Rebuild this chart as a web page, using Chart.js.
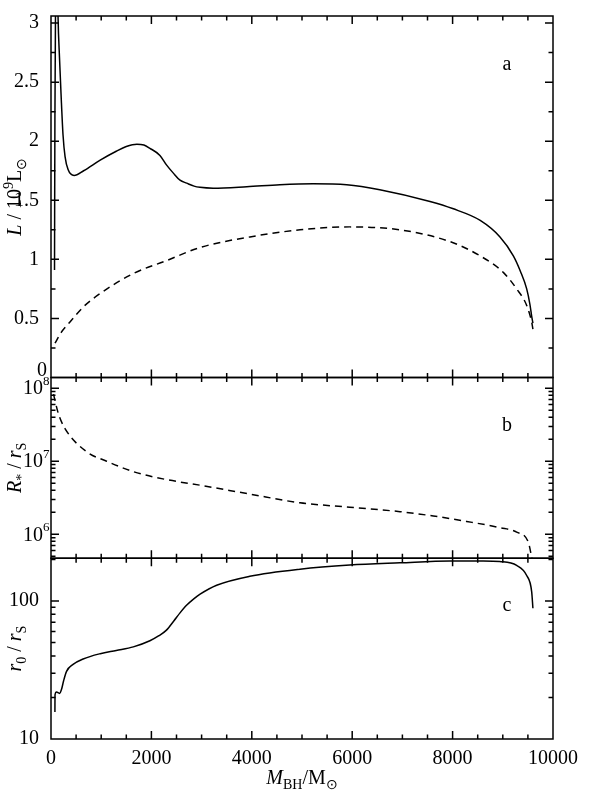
<!DOCTYPE html>
<html>
<head>
<meta charset="utf-8">
<script src="https://cdn.jsdelivr.net/npm/chart.js@4.4.1/dist/chart.umd.min.js"></script>
<style>
  html, body { margin: 0; padding: 0; background: #fff; }
</style>
</head>
<body>
<canvas id="chart" width="603" height="791"></canvas>
<script>
// ── Data ──────────────────────────────────────────────
// panel a: luminosity (units of 1e9 Lsun), solid and dashed
const M_L_SOLID = [70, 78, 95, 118, 140, 170, 200, 240, 280, 340, 460, 650, 980, 1300, 1500, 1710, 1850, 1970, 2170, 2300, 2437, 2570, 2703, 2850, 2968, 3230, 3900, 4560, 5220, 5890, 6550, 7550, 8000, 8550, 8944, 9210, 9350, 9476, 9540, 9575, 9600];
const L_SOLID   = [0.91, 2.2, 3.5, 3.7, 3.06, 2.7, 2.4, 2.05, 1.87, 1.76, 1.71, 1.75, 1.84, 1.915, 1.955, 1.975, 1.968, 1.94, 1.88, 1.80, 1.73, 1.67, 1.645, 1.62, 1.61, 1.603, 1.615, 1.632, 1.64, 1.632, 1.59, 1.49, 1.43, 1.33, 1.19, 1.03, 0.90, 0.75, 0.62, 0.52, 0.46];
const M_L_DASH  = [80, 200, 378, 650, 976, 1640, 2304, 2968, 3964, 4960, 5950, 6950, 7950, 8546, 9010, 9276, 9476, 9575, 9600];
const L_DASH    = [0.29, 0.38, 0.47, 0.60, 0.71, 0.88, 0.99, 1.10, 1.19, 1.25, 1.275, 1.25, 1.15, 1.03, 0.89, 0.75, 0.61, 0.47, 0.41];

// panel b: R* / rS (dashed)
const M_RSTAR = [50, 146, 279, 711, 1109, 1640, 2304, 2968, 3964, 4960, 5950, 6952, 7616, 8280, 8944, 9276, 9508, 9580];
const RSTAR   = [8.3e7, 4.5e7, 2.8e7, 1.35e7, 1.0e7, 7.2e6, 5.6e6, 4.7e6, 3.55e6, 2.7e6, 2.35e6, 2.04e6, 1.78e6, 1.5e6, 1.23e6, 1.07e6, 7.8e5, 4.7e5];

// panel c: r0 / rS (solid)
const M_R0 = [78, 80, 110, 170, 210, 250, 310, 440, 640, 980, 1300, 1640, 1970, 2150, 2300, 2450, 2570, 2700, 2850, 2970, 3300, 3960, 4960, 5950, 6950, 7950, 8610, 8940, 9276, 9476, 9575, 9600];
const R0   = [15.7, 20.9, 21.9, 21.4, 22.9, 26.3, 30.9, 34.7, 38.0, 41.5, 43.8, 46.5, 51.5, 56, 61.5, 72, 82, 93, 104, 112, 130, 151, 170, 182, 189, 195, 195, 193, 181, 153, 117, 88.5];

// ── Axis ticks ────────────────────────────────────────
const X_MAJOR = [0, 2000, 4000, 6000, 8000, 10000];
const X_MINOR = [500, 1000, 1500, 2500, 3000, 3500, 4500, 5000, 5500, 6500, 7000, 7500, 8500, 9000, 9500];
const YA_MAJOR = [0, 0.5, 1, 1.5, 2, 2.5, 3];
const YA_MINOR = [0.25, 0.75, 1.25, 1.75, 2.25, 2.75];
const YB_MAJOR = [1e6, 1e7, 1e8];
const YB_EXP   = ['6', '7', '8'];
const YB_MINOR = [5e5, 6e5, 7e5, 8e5, 9e5, 2e6, 3e6, 4e6, 5e6, 6e6, 7e6, 8e6, 9e6, 2e7, 3e7, 4e7, 5e7, 6e7, 7e7, 8e7, 9e7];
const YC_MAJOR = [10, 100];
const YC_MINOR = [20, 30, 40, 50, 60, 70, 80, 90, 200];

const PANEL_LETTERS = [['yA', 'a', 9084, 2.65], ['yB', 'b', 9084, 3.06e7], ['yC', 'c', 9084, 92.5]];

const FAMILY = "'Liberation Serif', 'Times New Roman', serif";
const FONT = { family: FAMILY, size: 20 };

const zip = (xs, ys) => xs.map((x, i) => ({ x, y: ys[i] }));

// ── Rich text helper (italic / sub / sup pieces) ──────
function richFont(p) {
  const size = p.sub || p.sup ? 14 : 20;
  return `${p.italic ? 'italic ' : ''}${size}px ${FAMILY}`;
}
function drawRich(ctx, parts, x, y, rotate) {
  ctx.save();
  ctx.translate(x, y);
  if (rotate) ctx.rotate(-Math.PI / 2);
  let total = 0;
  parts.forEach(p => { ctx.font = richFont(p); total += ctx.measureText(p.t).width; });
  let cx = -total / 2;
  ctx.textBaseline = 'alphabetic';
  ctx.textAlign = 'left';
  parts.forEach(p => {
    ctx.font = richFont(p);
    const dy = p.sub ? 5 : p.sup ? -8 : 0;
    ctx.fillText(p.t, cx, dy);
    cx += ctx.measureText(p.t).width;
  });
  ctx.restore();
}

// ── Frame, inward ticks, labels ───────────────────────
const framePlugin = {
  id: 'frame',
  afterDraw(chart) {
    const { ctx, scales } = chart;
    const x = scales.x;
    const MAJ = 8, MIN = 4.5;
    ctx.save();
    ctx.strokeStyle = '#000';
    ctx.fillStyle = '#000';
    ctx.lineWidth = 1.5;

    const panels = [
      ['yA', YA_MAJOR, YA_MINOR],
      ['yB', YB_MAJOR, YB_MINOR],
      ['yC', YC_MAJOR, YC_MINOR],
    ];
    panels.forEach(([id, major, minor]) => {
      const s = scales[id];
      ctx.strokeRect(x.left, s.top, x.right - x.left, s.bottom - s.top);
      ctx.beginPath();
      const xt = (list, len) => list.forEach(v => {
        const px = x.getPixelForValue(v);
        if (px <= x.left + 0.5 || px >= x.right - 0.5) return;
        ctx.moveTo(px, s.top); ctx.lineTo(px, s.top + len);
        ctx.moveTo(px, s.bottom); ctx.lineTo(px, s.bottom - len);
      });
      const yt = (list, len) => list.forEach(v => {
        const py = s.getPixelForValue(v);
        if (py <= s.top + 0.5 || py >= s.bottom - 0.5) return;
        ctx.moveTo(x.left, py); ctx.lineTo(x.left + len, py);
        ctx.moveTo(x.right, py); ctx.lineTo(x.right - len, py);
      });
      xt(X_MAJOR, MAJ); xt(X_MINOR, MIN);
      yt(major, MAJ); yt(minor, MIN);
      ctx.stroke();
    });

    // panel a: the "0" label is nudged up off the panel boundary
    ctx.font = `20px ${FAMILY}`;
    ctx.textAlign = 'right';
    ctx.textBaseline = 'middle';
    ctx.fillText('0', x.left - 4, scales.yA.getPixelForValue(0) - 7);

    // panel b labels: 10 with superscript exponent
    const yB = scales.yB;
    YB_MAJOR.forEach((v, i) => {
      const py = yB.getPixelForValue(v);
      ctx.font = `20px ${FAMILY}`;
      ctx.textAlign = 'right';
      ctx.textBaseline = 'middle';
      ctx.fillText('10', x.left - 8, py + 1);
      ctx.font = `13px ${FAMILY}`;
      ctx.textAlign = 'left';
      ctx.fillText(YB_EXP[i], x.left - 8, py - 7);
    });

    // panel letters
    ctx.font = `20px ${FAMILY}`;
    ctx.textAlign = 'center';
    ctx.textBaseline = 'middle';
    PANEL_LETTERS.forEach(([id, txt, vx, vy]) => {
      ctx.fillText(txt, x.getPixelForValue(vx), scales[id].getPixelForValue(vy));
    });

    // axis titles
    const mid = s => (s.top + s.bottom) / 2;
    drawRich(ctx, [{ t: 'L', italic: true }, { t: ' / 10' }, { t: '9', sup: true }, { t: 'L' }, { t: '\u2299', sub: true }], 21, mid(scales.yA), true);
    drawRich(ctx, [{ t: 'R', italic: true }, { t: '*', sub: true }, { t: ' / ' }, { t: 'r', italic: true }, { t: 'S', sub: true }], 21, mid(scales.yB), true);
    drawRich(ctx, [{ t: 'r', italic: true }, { t: '0', sub: true }, { t: ' / ' }, { t: 'r', italic: true }, { t: 'S', sub: true }], 21, mid(scales.yC), true);
    drawRich(ctx, [{ t: 'M', italic: true }, { t: 'BH', sub: true }, { t: '/M' }, { t: '\u2299', sub: true }], (x.left + x.right) / 2, 784, false);

    ctx.restore();
  },
};

function yScale(type, weight, min, max, majors, showLabels) {
  return {
    type, position: 'left', stack: 'panels', stackWeight: weight,
    min, max,
    afterBuildTicks: s => { s.ticks = majors.map(v => ({ value: v })); },
    afterFit: s => { s.width = 51; },
    grid: { display: false },
    border: { display: false },
    ticks: {
      display: showLabels, font: FONT, color: '#000', padding: 4, autoSkip: false,
      // the "0" of panel a is drawn by the frame plugin
      callback: v => (type === 'linear' && v === 0 ? '' : String(v)),
    },
  };
}

const lineStyle = { borderColor: '#000', borderWidth: 1.5, pointRadius: 0, fill: false, cubicInterpolationMode: 'monotone' };

new Chart(document.getElementById('chart'), {
  type: 'line',
  data: {
    datasets: [
      { ...lineStyle, data: zip(M_L_SOLID, L_SOLID), yAxisID: 'yA' },
      { ...lineStyle, data: zip(M_L_DASH, L_DASH), yAxisID: 'yA', borderDash: [7, 5] },
      { ...lineStyle, data: zip(M_RSTAR, RSTAR), yAxisID: 'yB', borderDash: [7, 5] },
      { ...lineStyle, data: zip(M_R0, R0), yAxisID: 'yC' },
    ],
  },
  options: {
    responsive: false,
    animation: false,
    devicePixelRatio: 1,
    layout: { padding: { top: 7, right: 50, left: 0, bottom: 0 } },
    plugins: { legend: { display: false }, tooltip: { enabled: false } },
    scales: {
      x: {
        type: 'linear', min: 0, max: 10000,
        afterBuildTicks: s => { s.ticks = X_MAJOR.map(v => ({ value: v })); },
        afterFit: s => { s.height = 52; },
        grid: { display: false },
        border: { display: false },
        ticks: { font: FONT, color: '#000', padding: 0, maxRotation: 0, autoSkip: false, callback: v => String(v) },
      },
      // stacked axes are laid out bottom-up in definition order
      yC: yScale('logarithmic', 1, 10, 204, YC_MAJOR, true),
      yB: yScale('logarithmic', 1, 4.7e5, 1.4e8, YB_MAJOR, false),
      yA: yScale('linear', 2, 0, 3.06, YA_MAJOR, true),
    },
  },
  plugins: [framePlugin],
});
</script>
</body>
</html>
